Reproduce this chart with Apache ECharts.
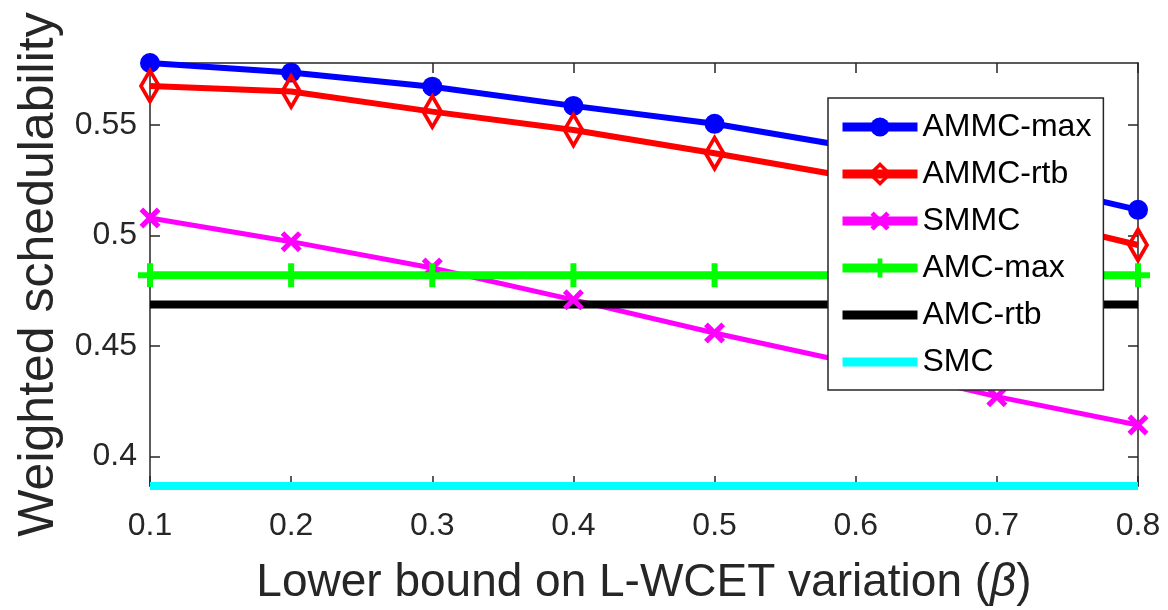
<!DOCTYPE html>
<html>
<head>
<meta charset="utf-8">
<script src="https://cdn.jsdelivr.net/npm/echarts@6/dist/echarts.min.js"></script>
<style>
html,body{margin:0;padding:0;background:#fff;}
#chart{width:1168px;height:610px;}
</style>
</head>
<body>
<div id="chart"></div>
<script>
var xCategories = ['0.1','0.2','0.3','0.4','0.5','0.6','0.7','0.8'];
var ammcMax = [0.578, 0.5737, 0.5673, 0.5586, 0.5505, 0.5397, 0.5265, 0.5116];
var ammcRtb = [0.5676, 0.5651, 0.5560, 0.5477, 0.5372, 0.5260, 0.5110, 0.4957];
var smmc    = [0.5079, 0.4972, 0.4853, 0.4709, 0.4559, 0.4420, 0.4271, 0.4143];
var amcMax  = [0.482, 0.482, 0.482, 0.482, 0.482, 0.482, 0.482, 0.482];
var amcRtb  = [0.4688, 0.4688, 0.4688, 0.4688, 0.4688, 0.4688, 0.4688, 0.4688];
var smc     = [0.3867, 0.3867, 0.3867, 0.3867, 0.3867, 0.3867, 0.3867, 0.3867];
var yTicks  = [0.4, 0.45, 0.5, 0.55];
var yMin = 0.3867, yMax = 0.578;

var FONT = '"Liberation Sans", Arial, sans-serif';
var AX = '#262626';
var xPath = 'path://M0,3.5 L3.5,0 L10,6.5 L16.5,0 L20,3.5 L13.5,10 L20,16.5 L16.5,20 L10,13.5 L3.5,20 L0,16.5 L6.5,10 Z';
var plusPath = 'path://M7.5,0 L12.5,0 L12.5,7.5 L20,7.5 L20,12.5 L12.5,12.5 L12.5,20 L7.5,20 L7.5,12.5 L0,12.5 L0,7.5 L7.5,7.5 Z';

var chart = echarts.init(document.getElementById('chart'), null, {renderer:'canvas'});

function baseY(pos, show) {
  return {
    type: 'value', position: pos, min: yMin, max: yMax,
    axisLine: {show: true, onZero: false, lineStyle: {color: AX, width: 1.5}},
    axisTick: {show: true, inside: true, length: 10, customValues: yTicks, lineStyle: {color: AX, width: 1.5}},
    axisLabel: {show: show, customValues: yTicks, margin: 13, fontSize: 32, fontFamily: FONT, color: AX},
    splitLine: {show: false}
  };
}
function baseX(pos, show) {
  return {
    type: 'category', data: xCategories, position: pos, boundaryGap: false,
    axisLine: {show: true, onZero: false, lineStyle: {color: AX, width: 1.5}},
    axisTick: {show: true, inside: true, length: 10, alignWithLabel: true, lineStyle: {color: AX, width: 1.5}},
    axisLabel: {show: show, margin: 24, fontSize: 32, fontFamily: FONT, color: AX},
    splitLine: {show: false}
  };
}

var xMain = baseX('bottom', true);
xMain.name = 'Lower bound on L-WCET variation ({b|β})';
xMain.nameLocation = 'middle';
xMain.nameGap = 74;
xMain.nameTextStyle = {fontSize: 46, fontFamily: FONT, color: AX,
  rich: {b: {fontSize: 46, fontFamily: FONT, fontStyle: 'italic', color: AX}}};
var xTop = baseX('top', false);

var yMain = baseY('left', true);
yMain.name = 'Weighted schedulability';
yMain.nameLocation = 'middle';
yMain.nameRotate = 90;
yMain.nameGap = 86;
yMain.nameTextStyle = {fontSize: 50, fontFamily: FONT, color: AX};
var yRight = baseY('right', false);

function lineSeries(name, data, color, width, symbol, size, itemStyle) {
  return {
    name: name, type: 'line', data: data, xAxisIndex: 0, yAxisIndex: 0,
    symbol: symbol, symbolSize: size, showSymbol: symbol !== 'none',
    lineStyle: {color: color, width: width},
    itemStyle: itemStyle || {color: color},
    clip: false, animation: false, z: 3
  };
}

var noMarker = {color: 'rgba(0,0,0,0)', borderWidth: 0, opacity: 0};

var option = {
  backgroundColor: '#ffffff',
  animation: false,
  grid: {left: 150, right: 30, top: 63, bottom: 124, containLabel: false, outerBoundsMode: 'none'},
  xAxis: [xMain, xTop],
  yAxis: [yMain, yRight],
  legend: {
    orient: 'vertical', left: 828, top: 98,
    padding: [13, 12, 12, 10], itemGap: 15,
    itemWidth: 75, itemHeight: 24,
    backgroundColor: '#ffffff', borderColor: AX, borderWidth: 1.5,
    lineStyle: {width: 9},
    textStyle: {fontSize: 32, fontFamily: FONT, color: '#000'},
    data: ['AMMC-max',
      {name: 'AMMC-rtb', itemStyle: {color: 'rgba(255,255,255,0)', borderColor: '#ff0000', borderWidth: 3.5}},
      'SMMC', 'AMC-max',
      {name: 'AMC-rtb', itemStyle: noMarker},
      {name: 'SMC', itemStyle: noMarker}]
  },
  series: [
    lineSeries('AMMC-max', ammcMax, '#0000ff', 6, 'circle', 20),
    lineSeries('AMMC-rtb', ammcRtb, '#ff0000', 6, 'diamond', [18, 31],
      {color: 'rgba(255,255,255,0)', borderColor: '#ff0000', borderWidth: 4}),
    lineSeries('SMMC', smmc, '#ff00ff', 5, xPath, 21),
    lineSeries('AMC-max', amcMax, '#00ff00', 8, plusPath, 24),
    lineSeries('AMC-rtb', amcRtb, '#000000', 8, 'none', 0),
    lineSeries('SMC', smc, '#00ffff', 8, 'none', 0)
  ]
};
chart.setOption(option);
</script>
</body>
</html>
